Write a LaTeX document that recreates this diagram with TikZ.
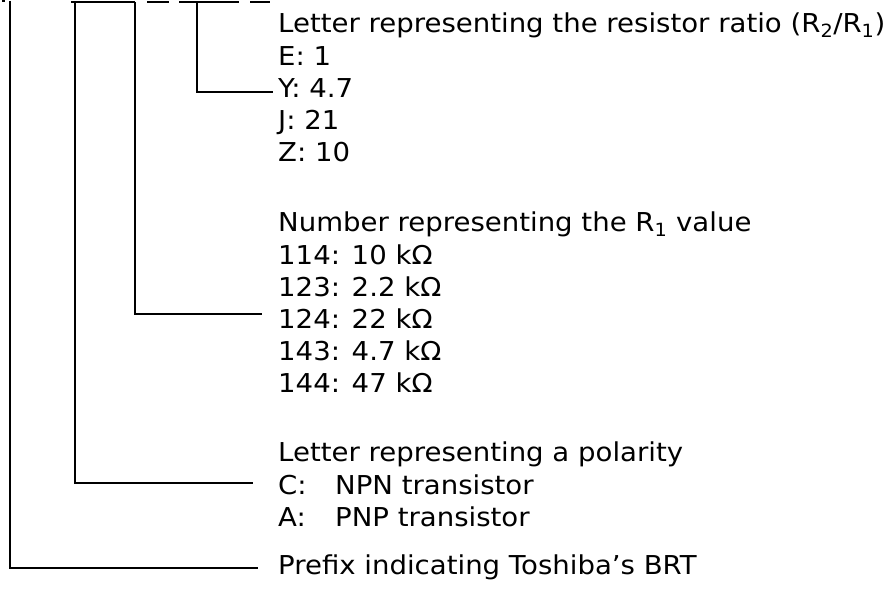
\documentclass[tikz,border=0pt]{standalone}
\usepackage{fontspec}
\setmainfont[FakeStretch=1.06]{DejaVu Sans}
\usepackage{tikz}
\usetikzlibrary{positioning}

\begin{document}
\begin{tikzpicture}
  [x=1pt, y=1pt,
  entry/.style={font=\fontsize{26}{31}\selectfont, inner sep=0pt,
    text height=19pt, text depth=5pt},
  next/.style={below right=7.8pt and 0pt of #1.south west},
  lead/.style={line width=2pt}]
\useasboundingbox (0,0) rectangle (886,596);
% top bar under the part number
\draw [lead] (2,595) -- (5,595);
\draw [lead] (71,594) -- (135,594);
\draw [lead] (147,594) -- (169,594);
\draw [lead] (179,594) -- (239,594);
\draw [lead] (250,594) -- (270,594);
\coordinate (p1) at (10,595);
\coordinate (p2) at (75,594);
\coordinate (p3) at (135,594);
\coordinate (p4) at (197,594);
% resistor ratio
\node [entry, anchor=base west] (r0) at (278,563)
  {Letter representing the resistor ratio (R\textsubscript{2}/R\textsubscript{1})};
\node [entry, next=r0] (rE) {E: 1};
\node [entry, next=rE] (rY) {Y: 4.7};
\node [entry, next=rY] (rJ) {J: 21};
\node [entry, next=rJ] (rZ) {Z: 10};
% R1 value
\node [entry, anchor=base west] (n0) at (278,364)
  {Number representing the R\textsubscript{1} value};
\node [entry, next=n0] (n114) {114: 10 kΩ};
\node [entry, next=n114] (n123) {123: 2.2 kΩ};
\node [entry, next=n123] (n124) {124: 22 kΩ};
\node [entry, next=n124] (n143) {143: 4.7 kΩ};
\node [entry, next=n143] (n144) {144: 47 kΩ};
% polarity
\node [entry, anchor=base west] (c0) at (278,134)
  {Letter representing a polarity};
\node [entry, next=c0] (cC) {\makebox[57pt][l]{C:}NPN transistor};
\node [entry, next=cC] (cA) {\makebox[57pt][l]{A:}PNP transistor};
% prefix
\node [entry, anchor=base west] (pre) at (278,21)
  {Prefix indicating Toshiba's BRT};
% leaders
\draw [lead] (p4) |- ([xshift=-5pt, yshift=-1.5pt]rY.west);
\draw [lead] (p3) |- ([xshift=-16pt, yshift=8pt]n124.west);
\draw [lead] (p2) |- ([xshift=-25pt, yshift=4pt]cC.west);
\draw [lead] (p1) |- ([xshift=-20pt]pre.west);
\end{tikzpicture}
\end{document}
